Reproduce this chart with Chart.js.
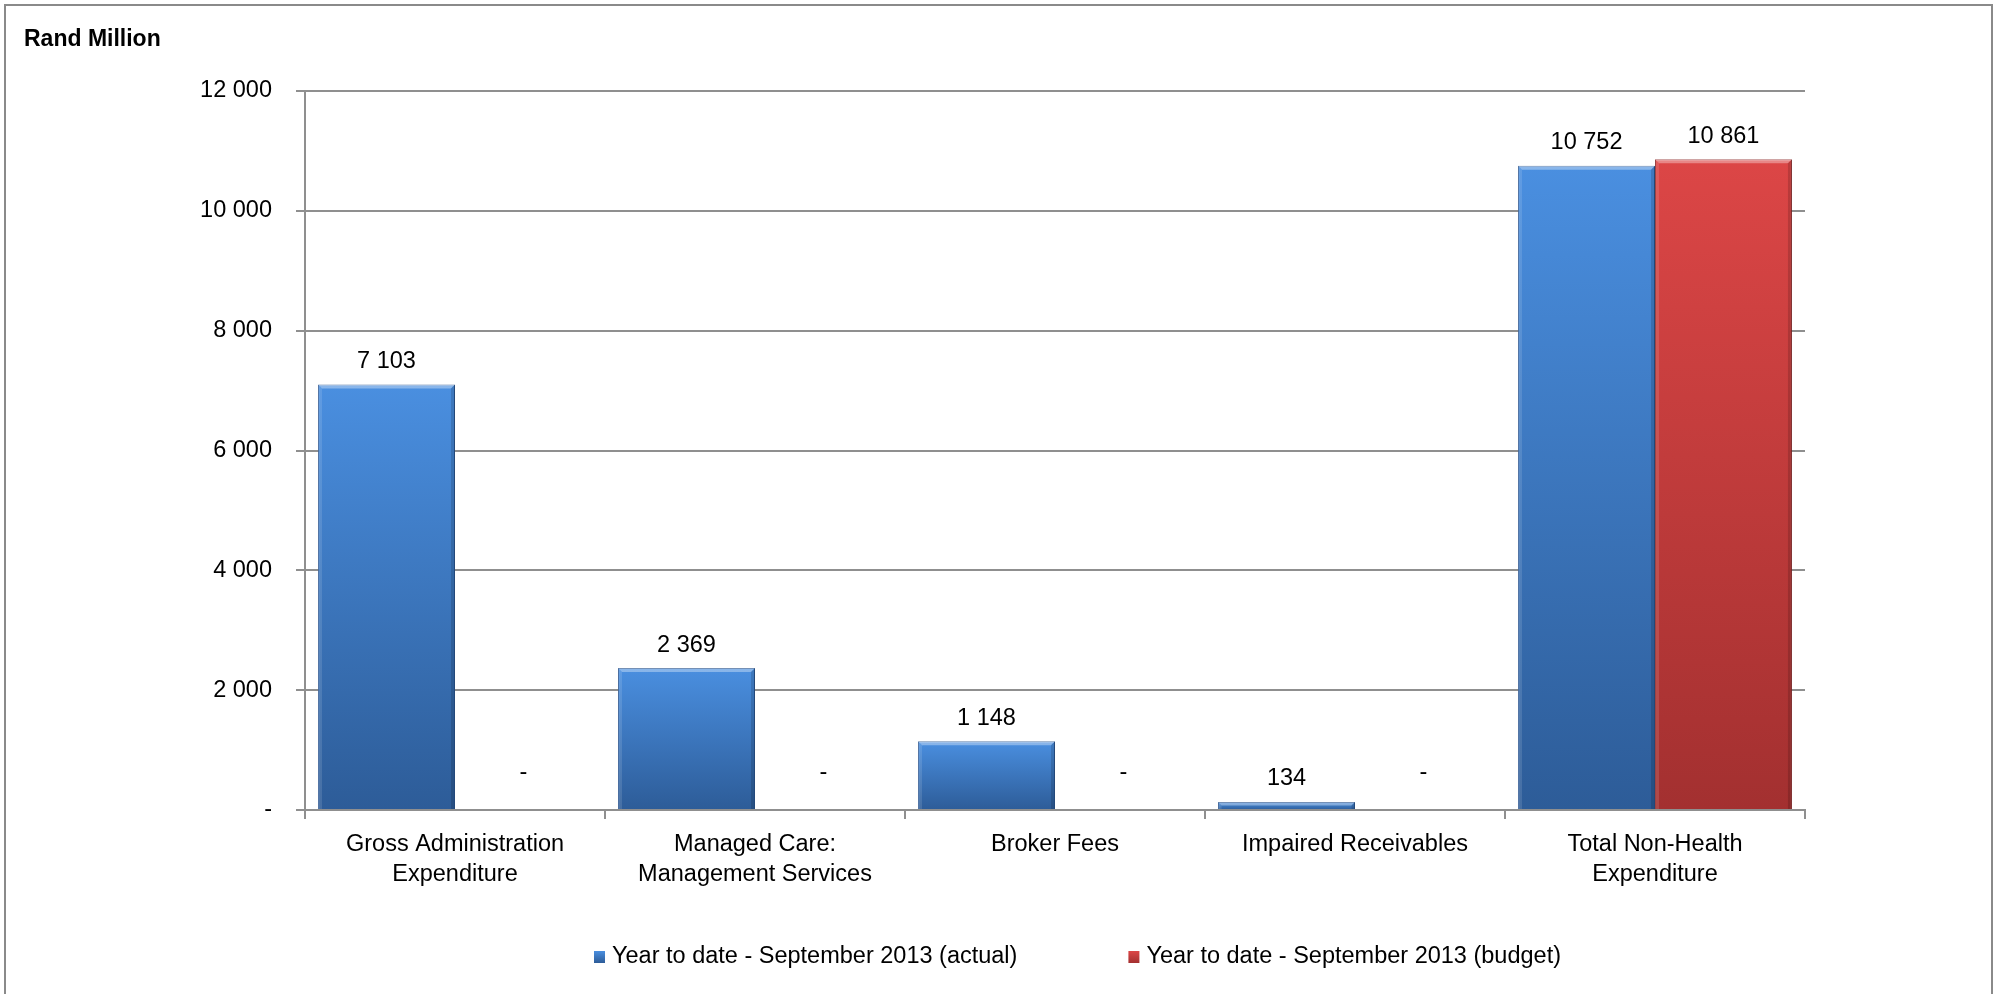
<!DOCTYPE html>
<html lang="en">
<head>
<meta charset="UTF-8">
<title>Non-Health Expenditure</title>
<script src="https://cdn.jsdelivr.net/npm/chart.js"></script>
<style>
  html, body { margin: 0; padding: 0; background: #fff; }
  #wrap { width: 1995px; height: 994px; }
</style>
</head>
<body>
<div id="wrap"><canvas id="chart"></canvas></div>
<script>
// data
const categories = [
  ['Gross Administration', 'Expenditure'],
  ['Managed Care:', 'Management Services'],
  ['Broker Fees'],
  ['Impaired Receivables'],
  ['Total Non-Health', 'Expenditure']
];
const actual = [7103, 2369, 1148, 134, 10752];
const budget = [0, 0, 0, 0, 10861];
const seriesNames = ['Year to date - September 2013 (actual)', 'Year to date - September 2013 (budget)'];
const yTicks = [0, 2000, 4000, 6000, 8000, 10000, 12000];

const FONT = "'Liberation Sans', Arial, sans-serif";
const FSIZE = 23.5;
const GRID = '#8f8f8f';

// 12000 -> "12 000", 0 -> "-"
const fmt = v => v === 0 ? '-' : String(v).replace(/\B(?=(\d{3})+(?!\d))/g, ' ');

function barFill(ctx, light, dark) {
  const chart = ctx.chart;
  if (!chart.chartArea || ctx.type !== 'data') return dark;
  const y = chart.scales.y;
  const top = y.getPixelForValue(ctx.raw), base = y.getPixelForValue(0);
  if (base - top < 1) return dark;
  const g = chart.ctx.createLinearGradient(0, top, 0, base);
  g.addColorStop(0, light);
  g.addColorStop(1, dark);
  return g;
}

const extras = {
  id: 'extras',
  beforeDraw(chart) {
    const c = chart.ctx;
    c.save();
    c.fillStyle = '#fff';
    c.fillRect(0, 0, chart.width, chart.height);
    c.strokeStyle = '#8a8a8a';
    c.lineWidth = 2;
    c.strokeRect(5, 5, chart.width - 8, chart.height + 50);
    c.fillStyle = '#000';
    c.font = 'bold 23px ' + FONT;
    c.textBaseline = 'middle';
    c.fillText('Rand Million', 24, 40);
    c.restore();
  },
  afterDatasetsDraw(chart) {
    const c = chart.ctx;
    const zero = chart.scales.y.getPixelForValue(0);
    c.save();
    chart.data.datasets.forEach((ds, di) => {
      chart.getDatasetMeta(di).data.forEach((el, i) => {
        const v = ds.data[i];
        if (v > 0) {
          const l = el.x - el.width / 2, r = el.x + el.width / 2, t = el.y, h = el.base - el.y;
          const b = Math.min(4, h / 2);
          // light bevel on top and left, dark on right
          c.fillStyle = 'rgba(255,255,255,0.35)';
          c.beginPath();
          c.moveTo(l, t); c.lineTo(r, t); c.lineTo(r - b, t + b); c.lineTo(l + b, t + b);
          c.closePath(); c.fill();
          c.fillStyle = 'rgba(255,255,255,0.12)';
          c.beginPath();
          c.moveTo(l, t); c.lineTo(l + b, t + b); c.lineTo(l + b, el.base); c.lineTo(l, el.base);
          c.closePath(); c.fill();
          c.fillStyle = 'rgba(0,0,0,0.15)';
          c.beginPath();
          c.moveTo(r, t); c.lineTo(r - b, t + b); c.lineTo(r - b, el.base); c.lineTo(r, el.base);
          c.closePath(); c.fill();
        }
        c.fillStyle = '#000';
        c.font = FSIZE + 'px ' + FONT;
        c.textAlign = 'center';
        c.textBaseline = 'middle';
        const y = v === 0 ? zero - 37 : el.y - 23;
        c.fillText(fmt(v), el.x, y);
      });
    });
    c.restore();
  },
  afterDraw(chart) {
    // legend row under the axis
    const c = chart.ctx;
    const colors = [['#4a8fe0', '#2d5c98'], ['#dc4646', '#a33030']];
    let x = 594;
    const y = 957;
    c.save();
    c.font = FSIZE + 'px ' + FONT;
    c.textBaseline = 'middle';
    chart.data.datasets.forEach((ds, i) => {
      const g = c.createLinearGradient(0, y - 6, 0, y + 6);
      g.addColorStop(0, colors[i][0]);
      g.addColorStop(1, colors[i][1]);
      c.fillStyle = g;
      c.fillRect(x, y - 6, 11, 12);
      c.fillStyle = '#000';
      c.fillText(ds.label, x + 18, y);
      x += 18 + c.measureText(ds.label).width + 111;
    });
    c.restore();
  }
};

new Chart(document.getElementById('chart'), {
  type: 'bar',
  data: {
    labels: categories,
    datasets: [{
      label: seriesNames[0],
      data: actual,
      backgroundColor: ctx => barFill(ctx, '#4a8fe0', '#2d5c98'),
      borderColor: '#2a5590',
      borderWidth: 1
    }, {
      label: seriesNames[1],
      data: budget,
      backgroundColor: ctx => barFill(ctx, '#dc4646', '#a33030'),
      borderColor: '#8e2a2a',
      borderWidth: 1
    }]
  },
  options: {
    responsive: true,
    maintainAspectRatio: false,
    animation: false,
    layout: { padding: { top: 91, right: 190, left: 0, bottom: 0 } },
    plugins: {
      legend: { display: false },
      tooltip: { enabled: false }
    },
    datasets: {
      bar: { categoryPercentage: 0.913, barPercentage: 1 }
    },
    scales: {
      x: {
        afterFit: s => { s.height = 184; },
        grid: { drawOnChartArea: false, drawTicks: true, tickLength: 9, color: GRID, lineWidth: 2 },
        border: { display: true, color: GRID, width: 2 },
        ticks: { color: '#000', font: { family: FONT, size: FSIZE, lineHeight: 1.25 }, padding: 11, maxRotation: 0 }
      },
      y: {
        min: 0,
        max: 12000,
        afterFit: s => { s.width = 305; },
        afterBuildTicks: s => { s.ticks = yTicks.map(v => ({ value: v })); },
        grid: { color: GRID, lineWidth: 2, tickLength: 9 },
        border: { display: true, color: GRID, width: 2 },
        ticks: {
          color: '#000',
          font: { family: FONT, size: FSIZE },
          padding: 24,
          callback: v => fmt(v)
        }
      }
    }
  },
  plugins: [extras]
});
</script>
</body>
</html>
